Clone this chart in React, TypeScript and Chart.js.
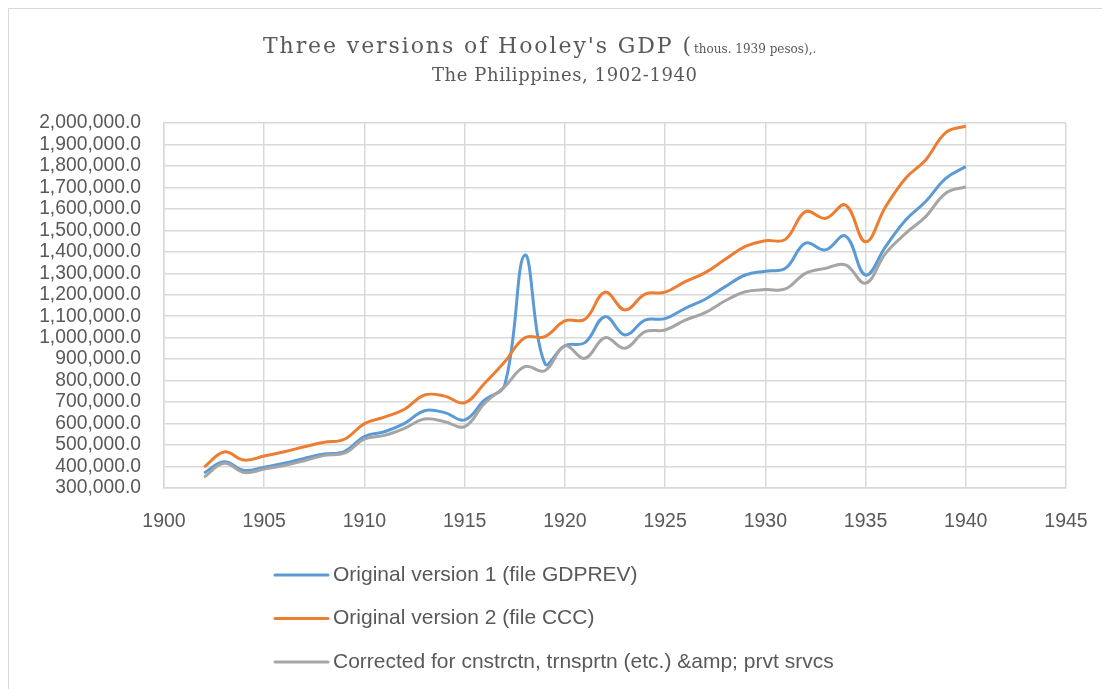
import React, { useEffect, useRef } from "react";
import { Chart, registerables } from "chart.js";

Chart.register(...registerables);

// ---------- data ----------
const years = [
  1902, 1903, 1904, 1905, 1906, 1907, 1908, 1909, 1910, 1911, 1912, 1913, 1914,
  1915, 1916, 1917, 1918, 1919, 1920, 1921, 1922, 1923, 1924, 1925, 1926, 1927,
  1928, 1929, 1930, 1931, 1932, 1933, 1934, 1935, 1936, 1937, 1938, 1939, 1940,
];

const gdprevValues = [
  370000, 422000, 382000, 397000, 415000, 438000, 458000, 470000, 540000, 562000,
  601000, 660000, 651000, 617000, 710000, 780000, 1385000, 880000, 963000, 977000,
  1098000, 1013000, 1082000, 1089000, 1137000, 1179000, 1238000, 1292000, 1310000,
  1323000, 1440000, 1409000, 1474000, 1292000, 1424000, 1548000, 1634000, 1742000,
  1797000,
];

const cccValues = [
  397000, 468000, 430000, 449000, 469000, 492000, 513000, 527000, 600000, 630000,
  667000, 733000, 728000, 697000, 788000, 888000, 1000000, 1005000, 1078000, 1086000,
  1212000, 1129000, 1203000, 1212000, 1261000, 1303000, 1365000, 1425000, 1452000,
  1458000, 1587000, 1556000, 1618000, 1447000, 1610000, 1743000, 1828000, 1955000,
  1986000,
];

const correctedValues = [
  350000, 415000, 372000, 388000, 405000, 427000, 452000, 462000, 528000, 545000,
  578000, 621000, 609000, 586000, 695000, 772000, 865000, 846000, 962000, 904000,
  1000000, 951000, 1028000, 1036000, 1082000, 1117000, 1172000, 1214000, 1224000,
  1227000, 1300000, 1323000, 1339000, 1254000, 1393000, 1486000, 1564000, 1673000,
  1703000,
];

const seriesLabels = [
  "Original version 1 (file GDPREV)",
  "Original version 2 (file CCC)",
  "Corrected for cnstrctn, trnsprtn (etc.) &amp; prvt srvcs",
];

const titleMain = "Three versions of Hooley's GDP (";
const titleSmall = "thous. 1939 pesos),.";
const subtitle = "The Philippines, 1902-1940";

const yMin = 300000;
const yMax = 2000000;
const yStep = 100000;
const xMin = 1900;
const xMax = 1945;
const xStep = 5;

// ---------- styles ----------
const TEXT = "#595959";
const GRID = "#d9d9d9";
const COLORS = ["#5B9BD5", "#ED7D31", "#A5A5A5"];
const SANS = "'Liberation Sans', Arial, sans-serif";
const SERIF = "'DejaVu Serif', 'Liberation Serif', serif";

const W = 1102;
const H = 681;

const toPoints = (vals: number[]) => years.map((yr, i) => ({ x: yr, y: vals[i] }));

// draw text so that it spans a given width (letter spacing, or horizontal stretch)
function fitText(ctx: any, text: string, x: number, y: number, width: number) {
  const natural = ctx.measureText(text).width;
  if ("letterSpacing" in ctx) {
    const sp = (width - natural) / Math.max(text.length - 1, 1);
    ctx.letterSpacing = `${sp}px`;
    ctx.fillText(text, x, y);
    ctx.letterSpacing = "0px";
  } else {
    ctx.save();
    ctx.translate(x, y);
    ctx.scale(width / natural, 1);
    ctx.fillText(text, 0, 0);
    ctx.restore();
  }
}

export default function App() {
  const ref = useRef<HTMLCanvasElement>(null);

  useEffect(() => {
    if (!ref.current) return;

    const titlePlugin = {
      id: "excelTitle",
      afterDraw(chart: any) {
        const ctx = chart.ctx;
        ctx.save();
        ctx.fillStyle = TEXT;
        ctx.textBaseline = "alphabetic";
        ctx.textAlign = "left";
        ctx.font = `22px ${SERIF}`;
        fitText(ctx, titleMain, 254, 44, 428);
        ctx.font = `12px ${SERIF}`;
        ctx.fillText(titleSmall, 685, 44);
        ctx.font = `18px ${SERIF}`;
        fitText(ctx, subtitle, 423, 72, 265);
        ctx.restore();
      },
    };

    const legendPlugin = {
      id: "excelLegend",
      afterDraw(chart: any) {
        const ctx = chart.ctx;
        ctx.save();
        chart.data.datasets.forEach((ds: any, i: number) => {
          const y = 566 + i * 43.5;
          ctx.strokeStyle = ds.borderColor;
          ctx.lineWidth = 3;
          ctx.lineCap = "round";
          ctx.beginPath();
          ctx.moveTo(266, y);
          ctx.lineTo(319, y);
          ctx.stroke();
          ctx.fillStyle = TEXT;
          ctx.font = `21px ${SANS}`;
          ctx.textAlign = "left";
          ctx.textBaseline = "middle";
          ctx.fillText(ds.label, 324, y);
        });
        ctx.restore();
      },
    };

    const chart = new Chart(ref.current, {
      type: "line",
      data: {
        datasets: [
          {
            label: seriesLabels[0],
            data: toPoints(gdprevValues),
            borderColor: COLORS[0],
            backgroundColor: COLORS[0],
            borderWidth: 3,
            pointRadius: 0,
            tension: 0.4,
            order: 3,
          },
          {
            label: seriesLabels[1],
            data: toPoints(cccValues),
            borderColor: COLORS[1],
            backgroundColor: COLORS[1],
            borderWidth: 3,
            pointRadius: 0,
            tension: 0.4,
            order: 2,
          },
          {
            label: seriesLabels[2],
            data: toPoints(correctedValues),
            borderColor: COLORS[2],
            backgroundColor: COLORS[2],
            borderWidth: 3,
            pointRadius: 0,
            tension: 0.4,
            order: 1,
          },
        ],
      },
      options: {
        responsive: false,
        animation: false,
        devicePixelRatio: 1,
        layout: { padding: { top: 114, right: 45, bottom: 152, left: 0 } },
        plugins: {
          legend: { display: false },
          title: { display: false },
          tooltip: { enabled: false },
        },
        scales: {
          x: {
            type: "linear",
            min: xMin,
            max: xMax,
            ticks: {
              stepSize: xStep,
              color: TEXT,
              font: { family: SANS, size: 19.5 },
              padding: 22,
              maxRotation: 0,
              autoSkip: false,
              callback: (v: any) => String(v),
            },
            grid: { color: GRID, lineWidth: 1.5, drawTicks: false },
            border: { color: GRID, width: 1.5 },
            afterFit: (s: any) => {
              s.height = 50;
            },
          },
          y: {
            type: "linear",
            min: yMin,
            max: yMax,
            ticks: {
              stepSize: yStep,
              color: TEXT,
              font: { family: SANS, size: 19.3 },
              padding: 23,
              autoSkip: false,
              callback: (v: any) =>
                Number(v).toLocaleString("en-US", {
                  minimumFractionDigits: 1,
                  maximumFractionDigits: 1,
                }),
            },
            grid: { color: GRID, lineWidth: 1.5, drawTicks: false },
            border: { color: GRID, width: 1.5 },
            afterFit: (s: any) => {
              s.width = 155;
            },
          },
        },
      },
      plugins: [titlePlugin, legendPlugin],
    });

    return () => chart.destroy();
  }, []);

  return (
    <div
      style={{
        width: W,
        height: H,
        border: "1px solid #d9d9d9",
        background: "#fff",
      }}
    >
      <canvas ref={ref} width={W} height={H} style={{ display: "block" }} />
    </div>
  );
}
